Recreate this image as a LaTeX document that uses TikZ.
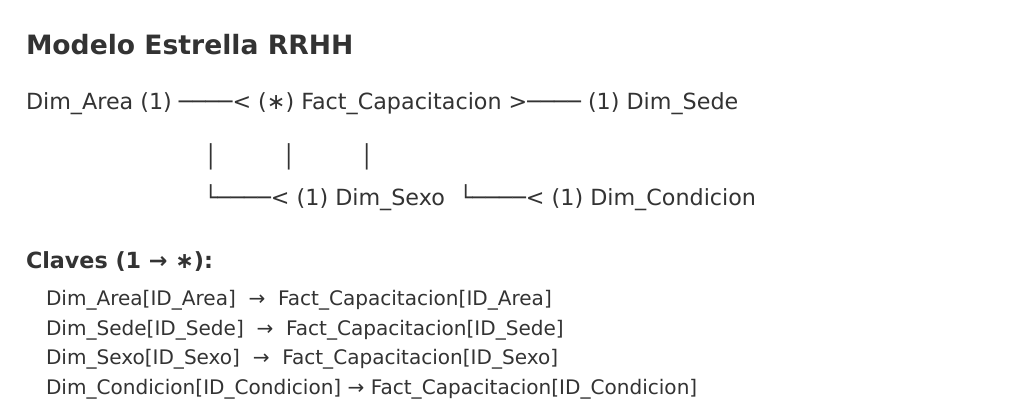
\documentclass[tikz,border=0pt]{standalone}
\usepackage{fontspec}
\setmainfont{DejaVu Sans}
\definecolor{ink}{HTML}{333333}
\tikzset{
  txt/.style={anchor=base west, inner sep=0pt, outer sep=0pt, text=ink, font=\fontsize{22.25}{26}\selectfont},
  ttl/.style={txt, font=\bfseries\fontsize{26.6}{30}\selectfont},
  hdr/.style={txt, font=\bfseries\fontsize{22.25}{26}\selectfont},
  key/.style={txt, font=\fontsize{20.05}{24}\selectfont}
}
\begin{document}
\begin{tikzpicture}[x=1pt,y=1pt]
\useasboundingbox[fill=white] (0,0) rectangle (1023,-413);
\node[ttl] (title) at (26,-54) {Modelo Estrella RRHH};
\node[txt] (row1) at (26,-109) {Dim\_Area (1) ────< (∗) Fact\_Capacitacion >──── (1) Dim\_Sede};
\node[txt] (p1) at (204,-164) {│};
\node[txt] (p2) at (282,-164) {│};
\node[txt] (p3) at (360,-164) {│};
\node[txt] (sexo) at (204,-205) {└────< (1) Dim\_Sexo};
\node[txt] (cond) at (459,-205) {└────< (1) Dim\_Condicion};
\node[hdr] (claves) at (26,-268) {Claves (1 → ∗):};
\node[key] (k1) at (46,-305) {Dim\_Area[ID\_Area]\ \ →\ \ Fact\_Capacitacion[ID\_Area]};
\node[key] (k2) at (46,-335) {Dim\_Sede[ID\_Sede]\ \ →\ \ Fact\_Capacitacion[ID\_Sede]};
\node[key] (k3) at (46,-364) {Dim\_Sexo[ID\_Sexo]\ \ →\ \ Fact\_Capacitacion[ID\_Sexo]};
\node[key] (k4) at (46,-394) {Dim\_Condicion[ID\_Condicion] → Fact\_Capacitacion[ID\_Condicion]};
\end{tikzpicture}
\end{document}
